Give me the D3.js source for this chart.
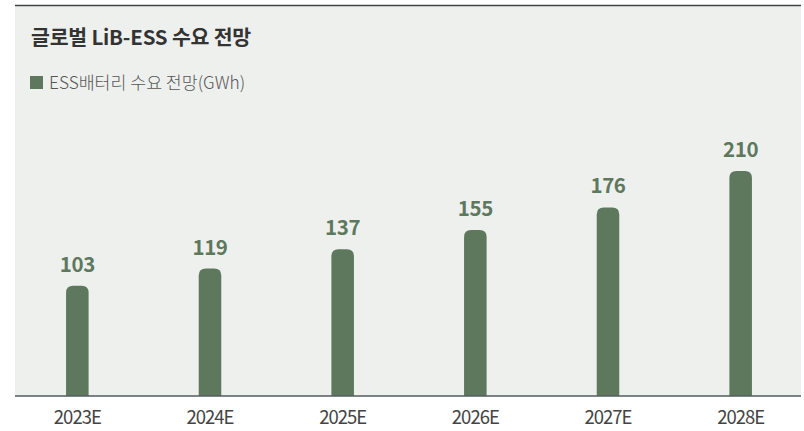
<!DOCTYPE html>
<html>
<head>
<meta charset="utf-8">
<script src="https://cdn.jsdelivr.net/npm/d3@7"></script>
<style>
  body { margin: 0; background: #fff; }
  svg { display: block; font-family: "Noto Sans CJK KR", "Noto Sans", sans-serif; }
</style>
</head>
<body>
<svg id="chart" width="804" height="431"></svg>
<script>
// data
const years = ['2023E', '2024E', '2025E', '2026E', '2027E', '2028E'];
const demand = [103, 119, 137, 155, 176, 210];
const title = '글로벌 LiB-ESS 수요 전망';
const legendLabel = 'ESS배터리 수요 전망(GWh)';

const width = 804;
const height = 431;
const barColor = '#5e785e';

const svg = d3.select('#chart');

// panel background + top rule
svg.append('rect')
  .attr('x', 15).attr('y', 5)
  .attr('width', 786).attr('height', 391)
  .attr('fill', '#eef0ee');

svg.append('line')
  .attr('x1', 15).attr('x2', 801)
  .attr('y1', 5.5).attr('y2', 5.5)
  .attr('stroke', '#3f4446')
  .attr('stroke-width', 1.5);

svg.append('text')
  .attr('x', 31).attr('y', 45)
  .attr('font-size', 20.5)
  .attr('font-weight', 700)
  .attr('fill', '#333')
  .attr('letter-spacing', -0.2)
  .text(title);

svg.append('rect')
  .attr('x', 30).attr('y', 76)
  .attr('width', 13).attr('height', 13)
  .attr('fill', barColor);

svg.append('text')
  .attr('x', 49).attr('y', 89)
  .attr('font-size', 17.3)
  .attr('font-weight', 300)
  .attr('fill', '#555')
  .text(legendLabel);

const x = d3.scaleBand()
  .domain(years)
  .range([11, 807])
  .paddingInner(0.83)
  .paddingOuter(0.415);

const y = d3.scaleLinear()
  .domain([0, 210])
  .range([396, 171]);

const bw = x.bandwidth();
const r = 7;

// bars with rounded tops
const barPath = (d, i) => {
  const x0 = x(years[i]);
  const y0 = y(d);
  const y1 = y(0);
  return `M${x0},${y1} V${y0 + r} Q${x0},${y0} ${x0 + r},${y0} H${x0 + bw - r} Q${x0 + bw},${y0} ${x0 + bw},${y0 + r} V${y1} Z`;
};

svg.append('g')
  .selectAll('path')
  .data(demand)
  .join('path')
  .attr('d', barPath)
  .attr('fill', barColor);

svg.append('g')
  .selectAll('text')
  .data(demand)
  .join('text')
  .attr('x', (d, i) => x(years[i]) + bw / 2)
  .attr('y', d => y(d) - 14)
  .attr('text-anchor', 'middle')
  .attr('font-size', 20.5)
  .attr('font-weight', 700)
  .attr('fill', barColor)
  .attr('letter-spacing', -0.4)
  .text(d => d);

// x axis
const xAxis = svg.append('g')
  .attr('transform', `translate(0,${y(0)})`)
  .call(d3.axisBottom(x).tickSize(0).tickPadding(15));

xAxis.select('.domain').remove();
xAxis.append('line')
  .attr('x1', 15).attr('x2', 801)
  .attr('y1', 0).attr('y2', 0)
  .attr('stroke', '#555c5f')
  .attr('stroke-width', 1.5);

xAxis.selectAll('text')
  .attr('font-family', '"Noto Sans CJK KR", "Noto Sans", sans-serif')
  .attr('font-size', 18.5)
  .attr('fill', '#444')
  .attr('letter-spacing', -1);
</script>
</body>
</html>
